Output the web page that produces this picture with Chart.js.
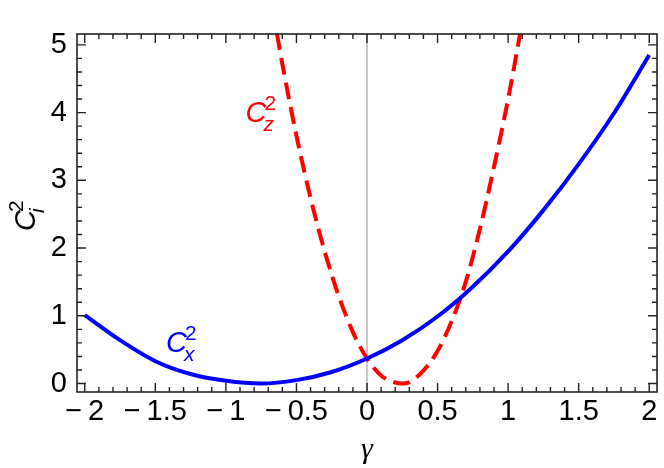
<!DOCTYPE html>
<html>
<head>
<meta charset="utf-8">
<script src="https://cdn.jsdelivr.net/npm/chart.js@4.4.1/dist/chart.umd.min.js"></script>
<style>
  html, body { margin: 0; padding: 0; background: #fff; }
  #wrap { width: 664px; height: 468px; }
</style>
</head>
<body>
<div id="wrap"><canvas id="c2Chart" width="664" height="468"></canvas></div>
<script>
// curve samples
const gammaX = [-2, -1.75, -1.5, -1.25, -1, -0.75, -0.5, -0.25, 0, 0.25, 0.5, 0.75, 1, 1.25, 1.5, 1.75, 2];
const cx2 = [1.01, 0.64, 0.33, 0.14, 0.04, 0.0, 0.05, 0.17, 0.37, 0.64, 0.99, 1.43, 1.95, 2.56, 3.24, 3.99, 4.85];

const gammaZ = [-0.7, -0.6, -0.5, -0.4, -0.3, -0.2, -0.1, 0, 0.1, 0.2, 0.25, 0.3, 0.4, 0.5, 0.6, 0.7, 0.8, 0.9, 1.0, 1.1, 1.2];
const cz2 = [5.9, 4.72, 3.66, 2.74, 1.95, 1.29, 0.76, 0.37, 0.12, 0.015, 0.0, 0.02, 0.19, 0.48, 0.92, 1.5, 2.28, 3.2, 4.2, 5.35, 6.6];

const xTicks = [-2, -1.5, -1, -0.5, 0, 0.5, 1, 1.5, 2];
const yTicks = [0, 1, 2, 3, 4, 5];

const FONT = '"Liberation Sans", Arial, sans-serif';
const toPts = (xs, ys) => xs.map((x, i) => ({ x: x, y: ys[i] }));
const fmt = v => v === 0 ? '0' : (v < 0 ? '\u2212\u2009' : '') + Math.abs(v);

// C with superscript 2 and a subscript, drawn at baseline (0,0) of the current transform
function drawC(ctx, sub, color) {
    ctx.fillStyle = color;
    ctx.textBaseline = 'alphabetic';
    ctx.textAlign = 'left';
    ctx.font = 'italic 29px ' + FONT;
    ctx.fillText('C', 0, 0);
    ctx.font = '21px ' + FONT;
    ctx.fillText('2', 19, -12);
    ctx.font = 'italic 21px ' + FONT;
    ctx.fillText(sub, 18, 9);
}

const decorations = {
    id: 'decorations',
    beforeDatasetsDraw(chart) {
        const { ctx, chartArea: a, scales: { x } } = chart;
        ctx.save();
        ctx.strokeStyle = '#b4b4b4';
        ctx.lineWidth = 1.5;
        const p = x.getPixelForValue(0);
        ctx.beginPath();
        ctx.moveTo(p, a.top);
        ctx.lineTo(p, a.bottom);
        ctx.stroke();
        ctx.restore();
    },
    afterDatasetsDraw(chart) {
        const { ctx, chartArea: a, scales: { x, y } } = chart;
        ctx.save();
        ctx.strokeStyle = '#222';
        ctx.lineWidth = 1.6;
        ctx.strokeRect(a.left, a.top, a.right - a.left, a.bottom - a.top);

        ctx.lineWidth = 1.4;
        ctx.beginPath();
        for (let i = -20; i <= 20; i++) {
            const px = x.getPixelForValue(i / 10);
            const len = i % 5 === 0 ? 9 : 5;
            ctx.moveTo(px, a.bottom); ctx.lineTo(px, a.bottom - len);
            ctx.moveTo(px, a.top); ctx.lineTo(px, a.top + len);
        }
        for (let i = 0; i <= 25; i++) {
            const py = y.getPixelForValue(i / 5);
            const len = i % 5 === 0 ? 9 : 5;
            ctx.moveTo(a.left, py); ctx.lineTo(a.left + len, py);
            ctx.moveTo(a.right, py); ctx.lineTo(a.right - len, py);
        }
        ctx.stroke();

        // curve labels
        ctx.save();
        ctx.translate(x.getPixelForValue(-0.861), y.getPixelForValue(3.865));
        drawC(ctx, 'z', '#ff0000');
        ctx.restore();
        ctx.save();
        ctx.translate(x.getPixelForValue(-1.425), y.getPixelForValue(0.469));
        drawC(ctx, 'x', '#0000ff');
        ctx.restore();

        // axis titles
        ctx.save();
        ctx.translate(35, (a.top + a.bottom) / 2 + 18);
        ctx.rotate(-Math.PI / 2);
        drawC(ctx, 'i', '#000');
        ctx.restore();

        ctx.fillStyle = '#000';
        ctx.font = 'italic 30px "Liberation Serif", "Times New Roman", serif';
        ctx.textAlign = 'center';
        ctx.textBaseline = 'alphabetic';
        ctx.fillText('\u03b3', x.getPixelForValue(0), 458);
        ctx.restore();
    }
};

const ctx = document.getElementById('c2Chart').getContext('2d');
new Chart(ctx, {
    type: 'line',
    data: {
        datasets: [{
            label: 'Cx2',
            data: toPts(gammaX, cx2),
            borderColor: '#0000ff',
            borderWidth: 4,
            pointRadius: 0,
            cubicInterpolationMode: 'monotone',
            fill: false,
            clip: 0
        }, {
            label: 'Cz2',
            data: toPts(gammaZ, cz2),
            borderColor: '#ff0000',
            borderWidth: 4,
            borderDash: [17, 8],
            pointRadius: 0,
            cubicInterpolationMode: 'monotone',
            fill: false,
            clip: 0
        }]
    },
    options: {
        responsive: false,
        animation: false,
        layout: { padding: { left: 0, right: 7, top: 34, bottom: 0 } },
        plugins: { legend: { display: false }, tooltip: { enabled: false } },
        scales: {
            x: {
                type: 'linear',
                min: -2.055,
                max: 2.055,
                grid: { display: false, drawTicks: false },
                border: { display: false },
                afterBuildTicks: s => { s.ticks = xTicks.map(v => ({ value: v })); },
                afterFit: s => { s.height = 76; },
                ticks: {
                    autoSkip: false,
                    maxRotation: 0,
                    padding: 3,
                    color: '#000',
                    font: { family: FONT, size: 29 },
                    callback: v => fmt(v)
                }
            },
            y: {
                type: 'linear',
                min: -0.125,
                max: 5.16,
                grid: { display: false, drawTicks: false },
                border: { display: false },
                afterBuildTicks: s => { s.ticks = yTicks.map(v => ({ value: v })); },
                afterFit: s => { s.width = 77; },
                ticks: {
                    autoSkip: false,
                    padding: 10,
                    color: '#000',
                    font: { family: FONT, size: 29 },
                    callback: v => fmt(v)
                }
            }
        }
    },
    plugins: [decorations]
});
</script>
</body>
</html>
